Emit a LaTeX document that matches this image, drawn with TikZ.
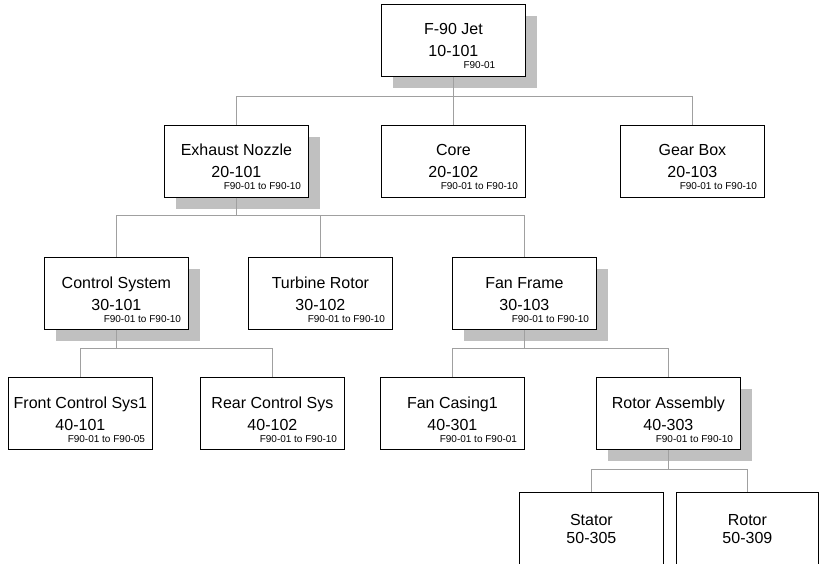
\documentclass[tikz,border=0pt]{standalone}
\usepackage{fontspec}
\setmainfont{Liberation Sans}
\usetikzlibrary{shadows}
\definecolor{shadowc}{HTML}{C0C0C0}
\definecolor{connc}{HTML}{A0A0A0}
\tikzset{
  box/.style={draw=black, line width=0.8pt, fill=white, minimum width=144pt, minimum height=72pt, anchor=north west, inner sep=0pt},
  shad/.style={drop shadow={shadow xshift=12pt, shadow yshift=-12pt, fill=shadowc, opacity=1}},
  big/.style={font=\fontsize{16}{18}\selectfont, anchor=base, inner sep=0pt},
  small/.style={font=\fontsize{10}{11}\selectfont, anchor=base, inner sep=0pt},
  conn/.style={draw=connc, line width=0.7pt},
}
\newcommand\partbox[6]{%
  \node[box,#2] (#1) at #3 {};
  \node[big] (#1-a) at ([yshift=-31pt]#1.north) {#4};
  \node[big] (#1-b) at ([yshift=-53pt]#1.north) {#5};
  \node[small] (#1-c) at ([xshift=26pt,yshift=-65pt]#1.north) {#6};
}
\begin{document}
\begin{tikzpicture}[x=1pt,y=-1pt]
\useasboundingbox (0,0) rectangle (822,564);
\clip (0,0) rectangle (822,564);
\coordinate (bar1) at (0,96);
\coordinate (bar2) at (0,215);
\coordinate (bar3) at (0,348);
\coordinate (bar4) at (0,469);
% level 1
\partbox{jet}{shad}{(381,4)}{F-90 Jet}{10-101}{F90-01}
% level 2
\partbox{exh}{shad}{(164,125)}{Exhaust Nozzle}{20-101}{F90-01 to F90-10}
\partbox{core}{}{(381,125)}{Core}{20-102}{F90-01 to F90-10}
\partbox{gear}{}{(620,125)}{Gear Box}{20-103}{F90-01 to F90-10}
% level 3
\partbox{ctrl}{shad}{(44,257)}{Control System}{30-101}{F90-01 to F90-10}
\partbox{turb}{}{(248,257)}{Turbine Rotor}{30-102}{F90-01 to F90-10}
\partbox{fan}{shad}{(452,257)}{Fan Frame}{30-103}{F90-01 to F90-10}
% level 4
\partbox{front}{}{(8,377)}{Front Control Sys1}{40-101}{F90-01 to F90-05}
\partbox{rear}{}{(200,377)}{Rear Control Sys}{40-102}{F90-01 to F90-10}
\partbox{casing}{}{(380,377)}{Fan Casing1}{40-301}{F90-01 to F90-01}
\partbox{rotasm}{shad}{(596,377)}{Rotor Assembly}{40-303}{F90-01 to F90-10}
% level 5
\node[box, minimum height=80pt] (stator) at (519,492) {};
\node[big] (stator-a) at ([yshift=-33pt]stator.north) {Stator};
\node[big] (stator-b) at ([yshift=-51pt]stator.north) {50-305};
\node[box, minimum height=80pt, minimum width=142pt] (rotor) at (676,492) {};
\node[big] (rotor-a) at ([yshift=-33pt]rotor.north) {Rotor};
\node[big] (rotor-b) at ([yshift=-51pt]rotor.north) {50-309};
% connectors
\foreach \c in {exh,core,gear} \draw[conn] (jet.south) -- (jet.south |- bar1) -| (\c.north);
\foreach \c in {ctrl,turb,fan} \draw[conn] (exh.south) -- (exh.south |- bar2) -| (\c.north);
\foreach \c in {front,rear} \draw[conn] (ctrl.south) -- (ctrl.south |- bar3) -| (\c.north);
\foreach \c in {casing,rotasm} \draw[conn] (fan.south) -- (fan.south |- bar3) -| (\c.north);
\foreach \c in {stator,rotor} \draw[conn] (rotasm.south) -- (rotasm.south |- bar4) -| (\c.north);
\end{tikzpicture}
\end{document}
